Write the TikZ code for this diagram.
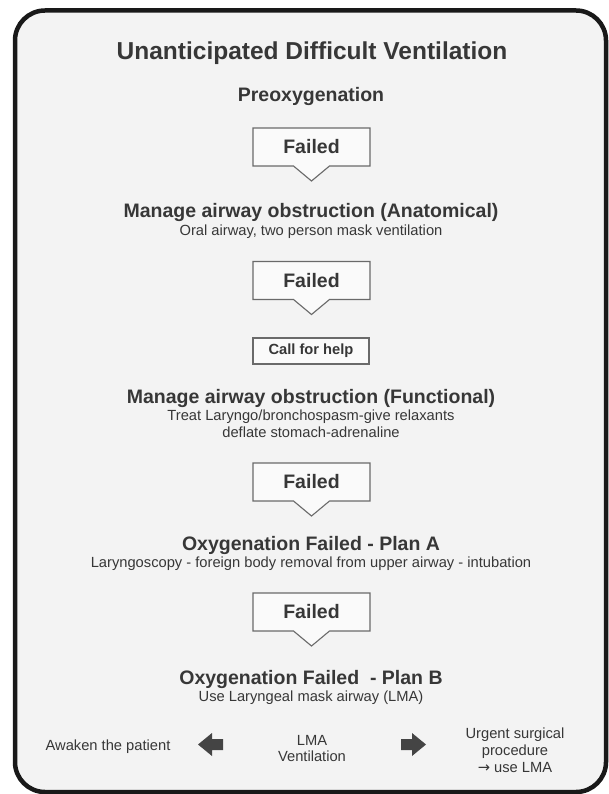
\documentclass[tikz,border=0pt]{standalone}
\usepackage{fontspec}
\setmainfont{Liberation Sans}
\newfontfamily\symfont{DejaVu Sans}
\definecolor{txt}{HTML}{373737}
\definecolor{bgc}{HTML}{F3F3F3}
\definecolor{boxc}{HTML}{6A6A6A}
\definecolor{boxf}{HTML}{FAFAFA}
\definecolor{arr}{HTML}{444444}
\tikzset{
  title/.style={font=\bfseries\fontsize{24.5}{28}\selectfont, text=txt, anchor=base, inner sep=0},
  head/.style={font=\bfseries\fontsize{19.5}{22}\selectfont, text=txt, anchor=base, inner sep=0},
  sub/.style={font=\fontsize{14.7}{17}\selectfont, text=txt, anchor=base, inner sep=0},
  failtext/.style={font=\bfseries\fontsize{19.5}{22}\selectfont, text=txt, inner sep=0},
  helpbox/.style={font=\bfseries\fontsize{14.7}{17}\selectfont, text=txt, draw=boxc, fill=boxf, line width=1.1pt, minimum width=116pt, minimum height=26pt, inner sep=0},
  callout/.style={draw=boxc, fill=boxf, line width=1.1pt},
  blockarrow/.style={fill=arr},
}
\newcommand\failcallout[2]{%
  \coordinate (#1c) at (311.5,#2);
  \filldraw[callout] ([shift={(-58.5pt,19pt)}]#1c) -- ([shift={(58.5pt,19pt)}]#1c)
    -- ([shift={(58.5pt,-19pt)}]#1c) -- ([shift={(18pt,-19pt)}]#1c)
    -- ([shift={(0pt,-34pt)}]#1c) -- ([shift={(-18pt,-19pt)}]#1c)
    -- ([shift={(-58.5pt,-19pt)}]#1c) -- cycle;
  \node[failtext] (#1) at (#1c) {Failed};}
\begin{document}
\begin{tikzpicture}[x=1pt,y=-1pt]
\useasboundingbox (0,0) rectangle (609,794);
\fill[white] (0,0) rectangle (609,794);
\filldraw[draw=black!90, fill=bgc, line width=4.5pt, rounded corners=30pt] (15,10.5) rectangle (606,792);

\node[title] (t) at (312,60) {Unanticipated Difficult Ventilation};
\node[head] (pre) at (311,102) {Preoxygenation};

\failcallout{f1}{147}

\node[head] (ana) at (311,218) {Manage airway obstruction (Anatomical)};
\node[sub] (ana1) at (311,235) {Oral airway, two person mask ventilation};

\failcallout{f2}{280.5}

\node[helpbox] (help) at (311,351) {Call for help};

\node[head] (fun) at (311,403) {Manage airway obstruction (Functional)};
\node[sub] (fun1) at (311,420) {Treat Laryngo/bronchospasm-give relaxants};
\node[sub] (fun2) at (311,437) {deflate stomach-adrenaline};

\failcallout{f3}{482}

\node[head] (pa) at (311,550) {Oxygenation Failed - Plan A};
\node[sub] (pa1) at (311,567) {Laryngoscopy - foreign body removal from upper airway - intubation};

\failcallout{f4}{612}

\node[head] (pb) at (311,684) {Oxygenation Failed\ \ - Plan B};
\node[sub] (pb1) at (311,701) {Use Laryngeal mask airway (LMA)};

\node[sub] (awake) at (108,750) {Awaken the patient};
\node[sub] (lma1) at (312,745) {LMA};
\node[sub] (lma2) at (312,761) {Ventilation};
\node[sub] (urg1) at (515,738) {Urgent surgical};
\node[sub] (urg2) at (515,755) {procedure};
\node[sub] (urg3) at (515,772) {{\symfont →} use LMA};

\fill[blockarrow] (198,744.5) -- (212,733) -- (212,739) -- (223,739) -- (223,750) -- (212,750) -- (212,756) -- cycle;
\fill[blockarrow] (426,744.5) -- (412,733) -- (412,739) -- (401,739) -- (401,750) -- (412,750) -- (412,756) -- cycle;
\end{tikzpicture}
\end{document}
